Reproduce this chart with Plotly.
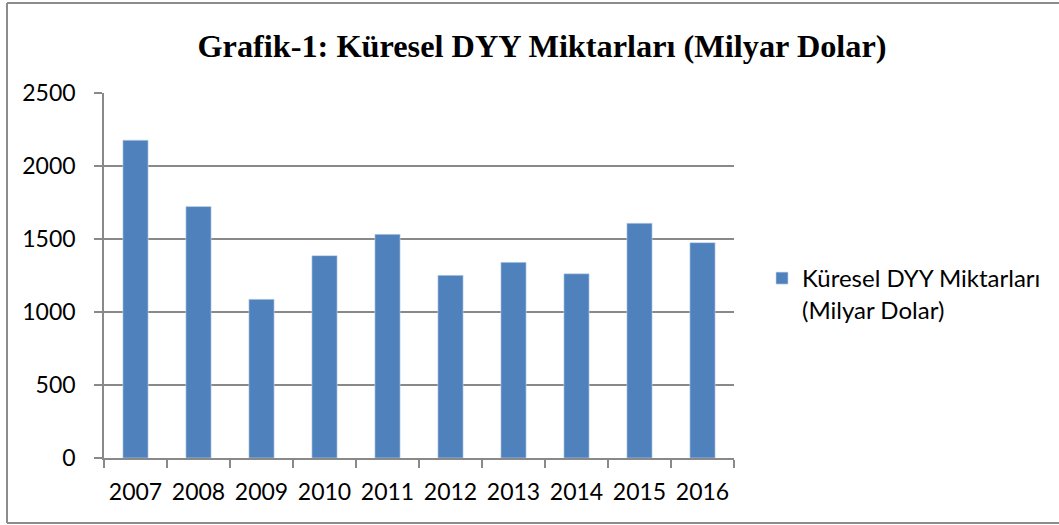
import plotly.graph_objects as go

years = ["2007", "2008", "2009", "2010", "2011", "2012", "2013", "2014", "2015", "2016"]
values = [2177, 1722, 1087, 1386, 1532, 1251, 1340, 1262, 1608, 1475]
series_name = "Küresel DYY Miktarları<br>(Milyar Dolar)"
title_text = "<b>Grafik-1: Küresel DYY Miktarları (Milyar Dolar)</b>"
y_ticks = [0, 500, 1000, 1500, 2000, 2500]

W, H = 1059, 525
ML, MR, MT, MB = 104, 325, 93, 67
pw = W - ML - MR
ph = H - MT - MB

def px_x(px):
    return (px - ML) / pw

def px_y(py):
    return (H - MB - py) / ph

grid = "#898989"
font_fam = "Lato, 'Open Sans', sans-serif"

fig = go.Figure()
fig.add_trace(go.Bar(
    x=years, y=values, name=series_name,
    marker=dict(color="#4F81BD", line=dict(color="#c9d7ea", width=0.6)),
    width=0.4, showlegend=True,
))

fig.update_layout(
    width=W, height=H,
    margin=dict(l=ML, r=MR, t=MT, b=MB, autoexpand=False),
    paper_bgcolor="white", plot_bgcolor="white",
    font=dict(family=font_fam, size=23, color="#000000"),
    title=dict(text=title_text, x=542 / W, xanchor="center", xref="container",
               y=1 - 46 / H, yanchor="middle", yref="container",
               font=dict(family="'Liberation Serif', 'Times New Roman', serif", size=32.3, color="#000000")),
    showlegend=True,
    legend=dict(x=px_x(762), xanchor="left", y=px_y(256), yanchor="top",
                font=dict(family=font_fam, size=24), valign="top",
                bgcolor="rgba(0,0,0,0)", itemwidth=30, tracegroupgap=0),
    xaxis=dict(type="category", showgrid=False, showline=True, linecolor=grid, linewidth=1.5,
               ticks="outside", tickson="boundaries", ticklen=8, tickcolor=grid, tickwidth=1.5,
               ticklabelstandoff=13, tickfont=dict(size=23), range=[-0.5, 9.5]),
    yaxis=dict(range=[0, 2500], tickvals=y_ticks, showgrid=True, gridcolor=grid, gridwidth=1.5,
               showline=True, linecolor=grid, linewidth=1.5, ticks="outside", ticklen=8,
               tickcolor=grid, tickwidth=1.5, ticklabelstandoff=14, zeroline=False,
               tickfont=dict(size=23)),
    bargap=0.6,
)

border = dict(color="#8c8c8c", width=2)
for (xa, ya, xb, yb) in [(7, 3, 7, 523), (7, 3, 1059, 3), (7, 523, 1059, 523)]:
    fig.add_shape(type="line", xref="paper", yref="paper",
                  x0=px_x(xa), y0=px_y(ya), x1=px_x(xb), y1=px_y(yb),
                  line=border, layer="below")

fig.write_html("out.html", config={"displayModeBar": False},
               post_script="document.body.style.margin='0';document.body.style.overflow='hidden';document.documentElement.style.overflow='hidden';")
